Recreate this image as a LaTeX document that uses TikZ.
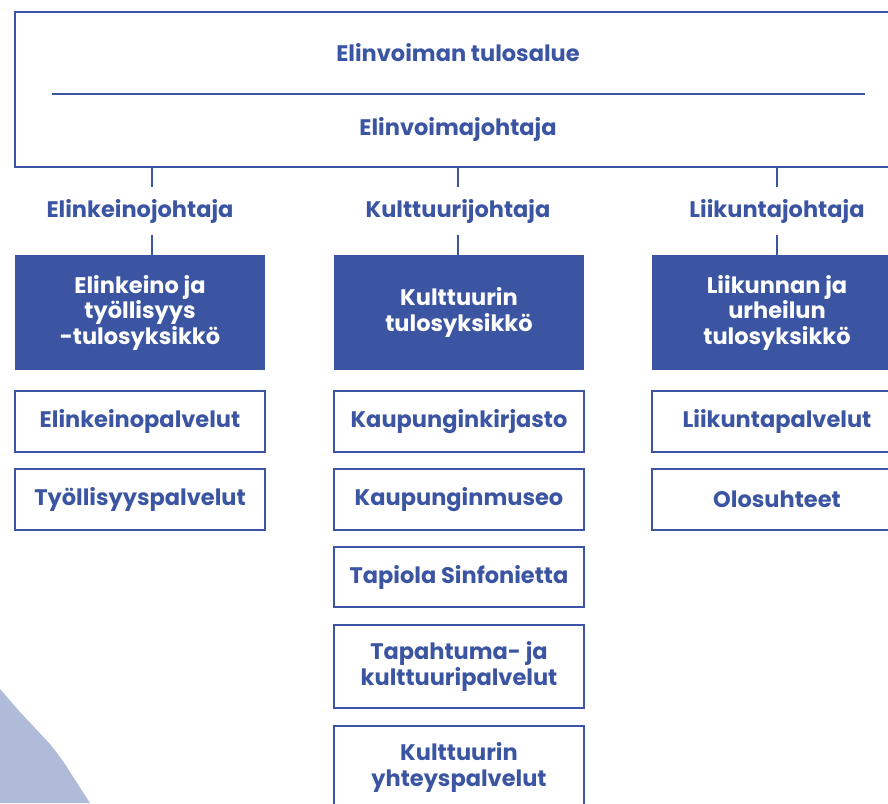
\documentclass[tikz,border=0pt]{standalone}
\usepackage{fontspec}
\setmainfont{Poppins}
\definecolor{dblue}{HTML}{3B55A3}
\definecolor{lblue}{HTML}{B0BAD9}
\begin{document}
\begin{tikzpicture}[x=1pt,y=-1pt,
  every node/.style={font=\fontsize{22.5}{25.5}\selectfont\bfseries, text=dblue, align=center, inner sep=0pt},
  topbox/.style={draw=dblue, line width=2pt, minimum width=895pt, minimum height=155pt},
  lbl/.style={minimum height=48pt, minimum width=200pt},
  unitbox/.style={fill=dblue, text=white, minimum width=250pt, minimum height=115pt},
  svcbox/.style={draw=dblue, line width=2pt, fill=white, minimum width=250pt, minimum height=61pt},
  conn/.style={draw=dblue, line width=1.5pt}
]
\useasboundingbox (0,0) rectangle (888,803);
\clip (0,0) rectangle (888,803);
\fill[lblue] (0,689) -- (20,712) -- (50,744) .. controls (58,754) and (64,762) .. (70,772) -- (90,803) -- (0,803) -- cycle;

\node[topbox] (top) at (462.5,89.5) {};
\node (ttl) at (458,53) {Elinvoiman tulosalue};
\node (tdir) at (458,129) {Elinvoimajohtaja};
\coordinate (la) at (52,94);
\coordinate (lb) at (865,94);
\draw[draw=dblue, line width=2pt] (la) -- (lb);

\node[lbl] (l1) at (140,211) {Elinkeinojohtaja};
\node[lbl] (l2) at (458,211) {Kulttuurijohtaja};
\node[lbl] (l3) at (777,211) {Liikuntajohtaja};

\node[unitbox] (b1) at (140,312.5) {Elinkeino ja\\työllisyys\\-tulosyksikkö};
\node[unitbox] (b2) at (459,312.5) {Kulttuurin\\tulosyksikkö};
\node[unitbox] (b3) at (777,312.5) {Liikunnan ja\\urheilun\\tulosyksikkö};

\coordinate (c1) at (152,0);
\coordinate (c2) at (458,0);
\coordinate (c3) at (777,0);
\foreach \i in {1,2,3}{
  \draw[conn] (top.south -| c\i) -- (l\i.north -| c\i);
  \draw[conn] (l\i.south -| c\i) -- (b\i.north -| c\i);
}

\node[svcbox] (w11) at (140,421.5) {Elinkeinopalvelut};
\node[svcbox] (w12) at (140,499.5) {Työllisyyspalvelut};
\node[svcbox] (w21) at (459,421.5) {Kaupunginkirjasto};
\node[svcbox] (w22) at (459,499.5) {Kaupunginmuseo};
\node[svcbox, minimum height=60pt] (w23) at (459,577) {Tapiola Sinfonietta};
\node[svcbox, minimum height=83pt] (w24) at (459,666.5) {Tapahtuma- ja\\kulttuuripalvelut};
\node[svcbox, minimum height=83pt] (w25) at (459,767.5) {Kulttuurin\\yhteyspalvelut};
\node[svcbox] (w31) at (777,421.5) {Liikuntapalvelut};
\node[svcbox] (w32) at (777,499.5) {Olosuhteet};
\end{tikzpicture}
\end{document}
